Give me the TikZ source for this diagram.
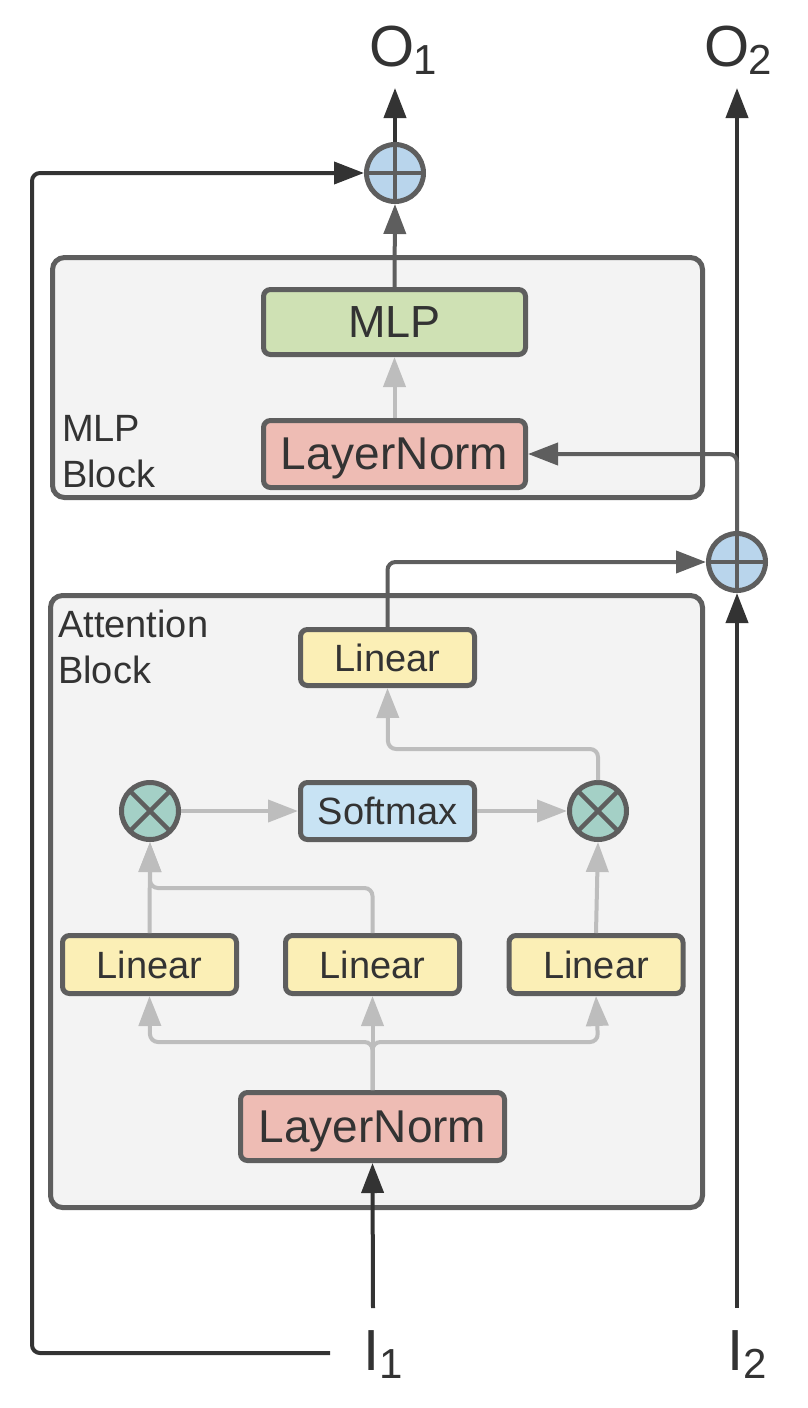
\documentclass[tikz,border=0pt]{standalone}
\usepackage{fontspec}
\setmainfont{Liberation Sans}
\usetikzlibrary{arrows.meta}
\definecolor{dark}{HTML}{333333}
\definecolor{bord}{HTML}{5E5E5E}
\definecolor{lite}{HTML}{BDBDBD}
\definecolor{blockfill}{HTML}{F3F3F3}
\definecolor{mlpgreen}{HTML}{CFE1B4}
\definecolor{lnpink}{HTML}{EEBCB4}
\definecolor{linyellow}{HTML}{FBEFB6}
\definecolor{smblue}{HTML}{C8E3F4}
\definecolor{plusblue}{HTML}{B9D5EC}
\definecolor{multeal}{HTML}{A4D0C6}
\tikzset{
  tip/.tip={Triangle[length=30pt,width=22pt]},
  opbox/.style={draw=bord, line width=5pt, rounded corners=7pt, text=dark, inner sep=0pt, text depth=0pt},
  blockbox/.style={draw=bord, line width=5pt, rounded corners=12pt, fill=blockfill},
  oplus/.style={circle, draw=bord, line width=5pt, fill=plusblue, minimum size=57pt, inner sep=0pt,
    path picture={\draw[bord, line width=4.5pt] (path picture bounding box.north) -- (path picture bounding box.south);
                  \draw[bord, line width=4.5pt] (path picture bounding box.west) -- (path picture bounding box.east);}},
  otimes/.style={circle, draw=bord, line width=5pt, fill=multeal, minimum size=57pt, inner sep=0pt,
    path picture={\draw[bord, line width=4.5pt] (path picture bounding box.north west) -- (path picture bounding box.south east);
                  \draw[bord, line width=4.5pt] (path picture bounding box.south west) -- (path picture bounding box.north east);}},
  darkarrow/.style={draw=dark, line width=4pt, -tip, rounded corners=8pt},
  bordarrow/.style={draw=bord, line width=4pt, -tip, rounded corners=8pt},
  litearrow/.style={draw=lite, line width=4pt, -tip, rounded corners=8pt},
  darkline/.style={draw=dark, line width=4pt, rounded corners=8pt},
  bigtxt/.style={text=dark, inner sep=0pt, anchor=base west},
  blocklabel/.style={text=dark, inner sep=0pt, anchor=base west, align=left, font=\fontsize{38}{46}\selectfont},
}
\begin{document}
\begin{tikzpicture}[x=1pt,y=-1pt]
\useasboundingbox (0,0) rectangle (808,1408);
% blocks
\draw[blockbox] (52.5,257.5) rectangle (702.5,497.5);
\draw[blockbox] (50.5,595.5) rectangle (702.5,1207.5);
\node[blocklabel] (mlplabel) at (62,487) {MLP\\Block};
\node[blocklabel] (attlabel) at (58,683) {Attention\\Block};
% MLP block nodes
\node[opbox, fill=mlpgreen, minimum width=262pt, minimum height=65pt, font=\fontsize{45}{50}\selectfont] (mlp) at (394.5,322) {MLP};
\node[opbox, fill=lnpink, minimum width=262pt, minimum height=67pt, font=\fontsize{46}{50}\selectfont] (lnt) at (394.5,454) {LayerNorm};
% attention block nodes
\node[opbox, fill=linyellow, minimum width=174pt, minimum height=56pt, font=\fontsize{38}{44}\selectfont] (lint) at (387.5,657.5) {Linear};
\node[opbox, fill=smblue, minimum width=174pt, minimum height=57pt, font=\fontsize{38}{44}\selectfont] (sm) at (387.5,811) {Softmax};
\node[otimes] (mull) at (150,811) {};
\node[otimes] (mulr) at (598,811) {};
\node[opbox, fill=linyellow, minimum width=174pt, minimum height=58pt, font=\fontsize{38}{44}\selectfont] (linl) at (149.5,964.5) {Linear};
\node[opbox, fill=linyellow, minimum width=174pt, minimum height=58pt, font=\fontsize{38}{44}\selectfont] (linm) at (372.5,964.5) {Linear};
\node[opbox, fill=linyellow, minimum width=174pt, minimum height=58pt, font=\fontsize{38}{44}\selectfont] (linr) at (596,964.5) {Linear};
\node[opbox, fill=lnpink, minimum width=264pt, minimum height=68pt, font=\fontsize{46}{50}\selectfont] (lnb) at (372.5,1126.5) {LayerNorm};
% adders
\node[oplus] (p1) at (395,173) {};
\node[oplus] (p2) at (737,562) {};
% labels
\node[bigtxt] (o1) at (369,66) {{\fontsize{58}{60}\selectfont O}\kern-1pt{\fontsize{42}{44}\selectfont\raisebox{-8pt}{1}}};
\node[bigtxt] (o2) at (704,66) {{\fontsize{58}{60}\selectfont O}\kern-1pt{\fontsize{42}{44}\selectfont\raisebox{-8pt}{2}}};
\node[bigtxt] (i1) at (363,1370) {{\fontsize{58}{60}\selectfont I}{\fontsize{42}{44}\selectfont\raisebox{-8pt}{1}}};
\node[bigtxt] (i2) at (727,1370) {{\fontsize{58}{60}\selectfont I}{\fontsize{42}{44}\selectfont\raisebox{-8pt}{2}}};
% free ends
\coordinate (i1top) at (373,1308);
\coordinate (i2top) at (737,1308);
\coordinate (o1bot) at (395,88);
\coordinate (o2bot) at (737,88);
\coordinate (loopstart) at (330,1353);
\coordinate (loopcorner) at (32,173);
\coordinate (splitl) at (150,1042);
\coordinate (splitr) at (598,1042);
\coordinate (kjoin) at (150,888);
\coordinate (vjoin) at (388,749);
% connectors
\draw[darkarrow] (i1top) -- (lnb.south);
\draw[litearrow] (lnb.north) -- (linm.south);
\draw[litearrow] (lnb.north) |- (splitl) -- (linl.south);
\draw[litearrow] (lnb.north) |- (splitr) -- (linr.south);
\draw[litearrow] (linl.north) -- (mull.south);
\draw[litearrow] (linm.north) |- (kjoin) -- (mull.south);
\draw[litearrow] (linr.north) -- (mulr.south);
\draw[litearrow] (mull.east) -- (sm.west);
\draw[litearrow] (sm.east) -- (mulr.west);
\draw[litearrow] (mulr.north) |- (vjoin) -- (lint.south);
\draw[bordarrow] (lint.north) |- (p2.west);
\draw[darkarrow] (i2top) -- (p2.south);
\draw[darkarrow] (p2.north) -- (o2bot);
\draw[bordarrow] (p2.north) |- (lnt.east);
\draw[litearrow] (lnt.north) -- (mlp.south);
\draw[bordarrow] (mlp.north) -- (p1.south);
\draw[darkarrow] (p1.north) -- (o1bot);
\draw[darkline, -tip] (loopstart) -| (loopcorner) -- (p1.west);
\end{tikzpicture}
\end{document}
